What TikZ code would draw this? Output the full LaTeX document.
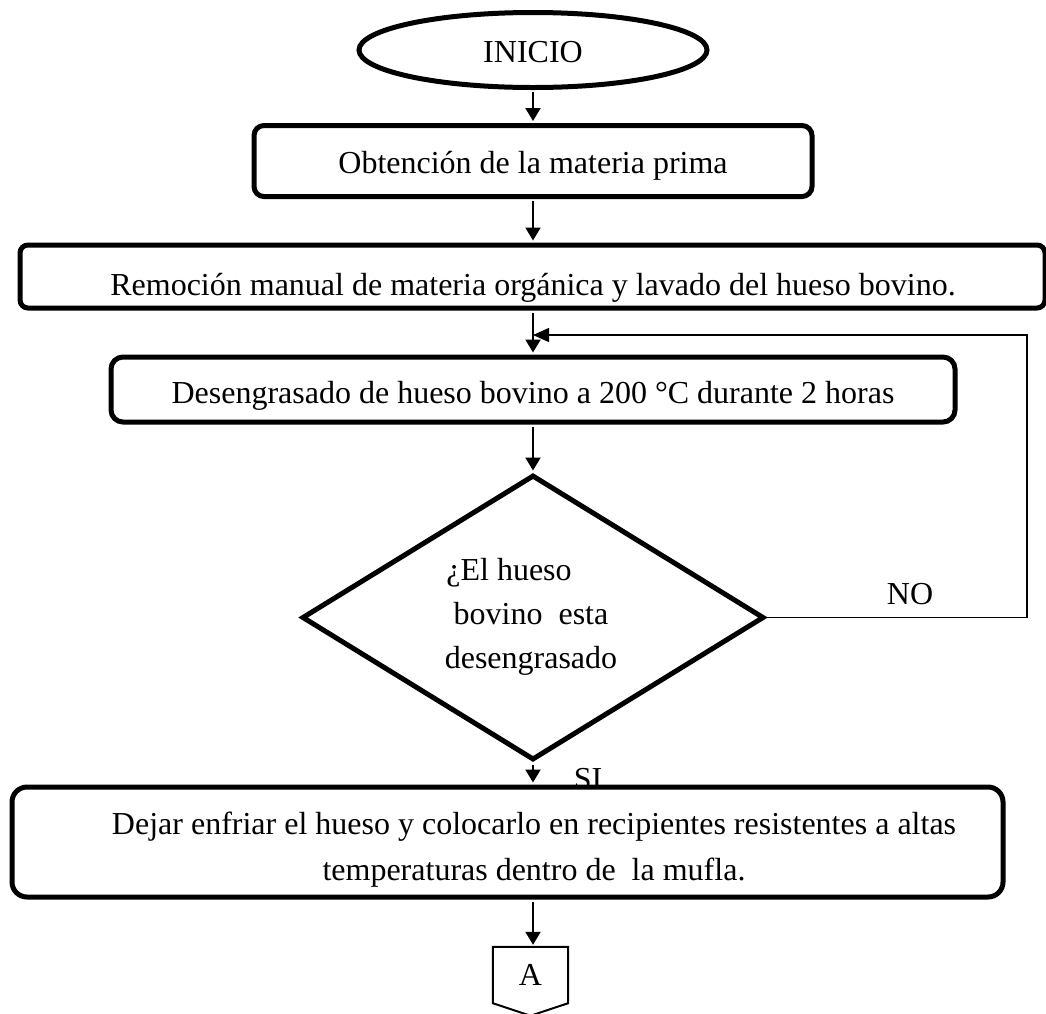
\documentclass[tikz,border=0pt]{standalone}
\usepackage{fontspec}
\setmainfont{Liberation Serif}
\usetikzlibrary{shapes.geometric,arrows.meta,calc}
\begin{document}
\begin{tikzpicture}[x=1pt,y=-1pt,
  txt/.style={font=\fontsize{32}{44}\selectfont, inner sep=0pt, align=center},
  thickbox/.style={draw, line width=5pt, rounded corners=10pt, inner sep=0pt, fill=white},
  arr/.style={line width=2pt, -{Triangle[length=13pt,width=15pt]}, shorten >=2pt, shorten <=2pt},
  loopline/.style={line width=1.4pt, -{Triangle[length=16pt,width=14pt]}},
]
\useasboundingbox[fill=white] (0,0) rectangle (1046,1013);

\node[draw, ellipse, line width=5pt, minimum width=348pt, minimum height=75pt, inner sep=0pt, txt, text height=24pt, text depth=0pt] (e) at (533,50) {INICIO};

\node[thickbox, txt, text height=24pt, text depth=0pt, minimum width=558pt, minimum height=71pt] (b1) at (533,161) {Obtención de la materia prima};

\node[thickbox, rounded corners=8pt, minimum width=1025pt, minimum height=63pt] (b2) at (532.5,276.5) {};
\begin{scope}
\clip (b2.north west) rectangle ($(b2.south east)+(0,-5.5)$);
\node[txt, anchor=base] (b2t) at (533,295) {Remoción manual de materia orgánica y lavado del hueso bovino.};
\end{scope}

\node[thickbox, txt, text height=28pt, text depth=0pt, rounded corners=12pt, minimum width=844pt, minimum height=65pt] (b3) at (533,389.5) {Desengrasado de hueso bovino a 200 °C durante 2 horas};

\node[draw, diamond, line width=5pt, minimum width=462pt, minimum height=285pt, inner sep=0pt] (d) at (533,617.5) {};
\node[txt] (dq) at (531,617) {¿El hueso\hspace*{44pt}\\bovino~ esta\\desengrasado};

\node[txt] (no) at (910,594) {NO};
\node[txt, anchor=base] (si) at (588,789) {SI};

\node[thickbox, rounded corners=15pt, minimum width=991pt, minimum height=110pt] (b4) at (507.5,842) {};
\node[txt, font=\fontsize{32}{46}\selectfont] (b4t) at (534,850) {Dejar enfriar el hueso y colocarlo en recipientes resistentes a altas\\temperaturas dentro de~ la mufla.};

\node[txt, minimum width=75pt, minimum height=56pt] (A) at (530.5,975) {A};
\draw[line width=2pt] (A.south west) -- (A.north west) -- (A.north east) -- (A.south east) -- ($(A.south)+(0,12.5)$) -- cycle;

\draw[arr] (e.south) -- (b1.north);
\draw[arr] (b1.south) -- (b1.south |- b2.north);
\draw[arr] (b1.south |- b2.south) -- (b3.north);
\draw[arr] (b3.south) -- (d.north);
\draw[arr] (d.south) -- (d.south |- b4.north);
\draw[arr] (d.south |- b4.south) -- (d.south |- A.north);

\coordinate (lr) at (1027,617.5);
\coordinate (lt) at (1027,335);
\draw[loopline] (d.east) -- (lr) -- (lt) -- (b3.north |- lt);
\end{tikzpicture}
\end{document}
